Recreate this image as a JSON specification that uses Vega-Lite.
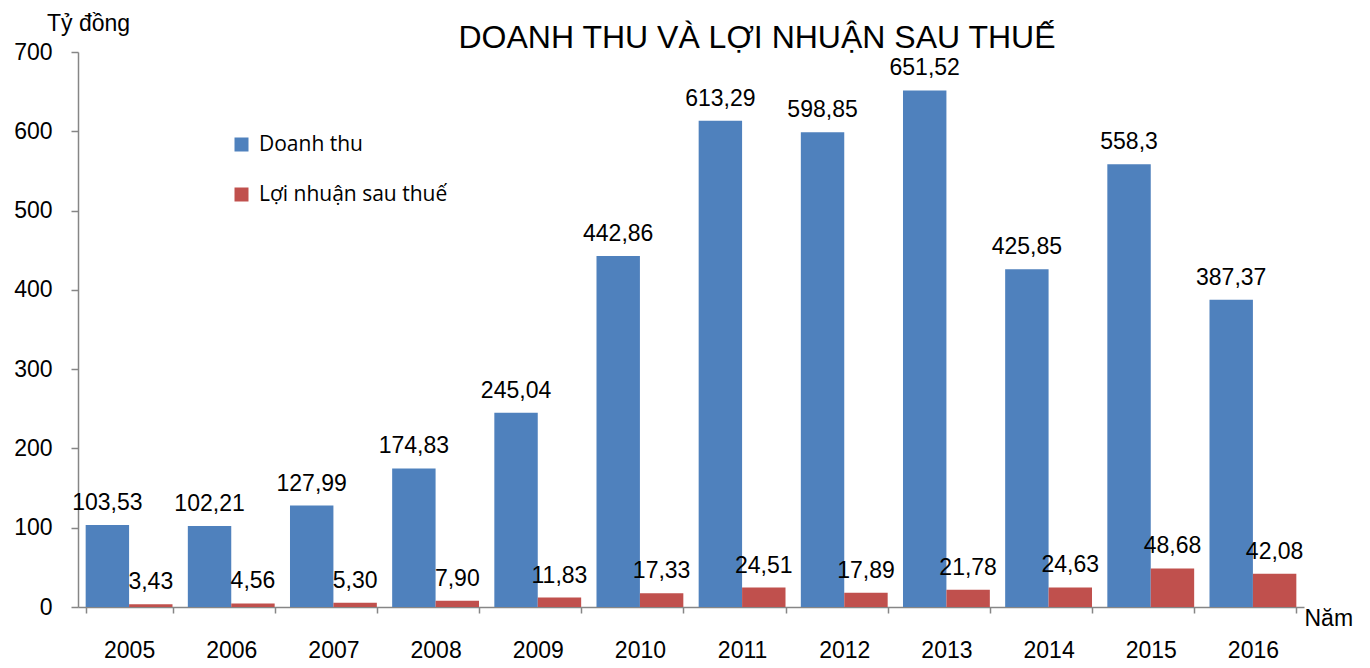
{
  "$schema": "https://vega.github.io/schema/vega-lite/v6.json",
  "width": 1226,
  "height": 555,
  "autosize": {"type": "none"},
  "padding": {"left": 78, "top": 52, "right": 66, "bottom": 61},
  "background": "white",
  "config": {"view": {"stroke": null}, "font": "Liberation Sans"},
  "title": {
    "text": "DOANH THU VÀ LỢI NHUẬN SAU THUẾ",
    "font": "Liberation Sans",
    "fontSize": 32,
    "fontWeight": "normal",
    "color": "black",
    "anchor": "middle",
    "frame": "group",
    "dx": 66,
    "dy": 72,
    "baseline": "alphabetic",
    "offset": 4
  },
  "data": {
    "values": [
      {"year": "2005", "series": "Doanh thu", "value": 103.53, "label": "103,53"},
      {"year": "2006", "series": "Doanh thu", "value": 102.21, "label": "102,21"},
      {"year": "2007", "series": "Doanh thu", "value": 127.99, "label": "127,99"},
      {"year": "2008", "series": "Doanh thu", "value": 174.83, "label": "174,83"},
      {"year": "2009", "series": "Doanh thu", "value": 245.04, "label": "245,04"},
      {"year": "2010", "series": "Doanh thu", "value": 442.86, "label": "442,86"},
      {"year": "2011", "series": "Doanh thu", "value": 613.29, "label": "613,29"},
      {"year": "2012", "series": "Doanh thu", "value": 598.85, "label": "598,85"},
      {"year": "2013", "series": "Doanh thu", "value": 651.52, "label": "651,52"},
      {"year": "2014", "series": "Doanh thu", "value": 425.85, "label": "425,85"},
      {"year": "2015", "series": "Doanh thu", "value": 558.3, "label": "558,3"},
      {"year": "2016", "series": "Doanh thu", "value": 387.37, "label": "387,37"},
      {"year": "2005", "series": "Lợi nhuận sau thuế", "value": 3.43, "label": "3,43"},
      {"year": "2006", "series": "Lợi nhuận sau thuế", "value": 4.56, "label": "4,56"},
      {"year": "2007", "series": "Lợi nhuận sau thuế", "value": 5.30, "label": "5,30"},
      {"year": "2008", "series": "Lợi nhuận sau thuế", "value": 7.90, "label": "7,90"},
      {"year": "2009", "series": "Lợi nhuận sau thuế", "value": 11.83, "label": "11,83"},
      {"year": "2010", "series": "Lợi nhuận sau thuế", "value": 17.33, "label": "17,33"},
      {"year": "2011", "series": "Lợi nhuận sau thuế", "value": 24.51, "label": "24,51"},
      {"year": "2012", "series": "Lợi nhuận sau thuế", "value": 17.89, "label": "17,89"},
      {"year": "2013", "series": "Lợi nhuận sau thuế", "value": 21.78, "label": "21,78"},
      {"year": "2014", "series": "Lợi nhuận sau thuế", "value": 24.63, "label": "24,63"},
      {"year": "2015", "series": "Lợi nhuận sau thuế", "value": 48.68, "label": "48,68"},
      {"year": "2016", "series": "Lợi nhuận sau thuế", "value": 42.08, "label": "42,08"}
    ]
  },
  "encoding": {
    "x": {
      "field": "year",
      "type": "nominal",
      "scale": {"paddingInner": 0.15, "paddingOuter": 0.075},
      "axis": {
        "title": "Năm",
        "titleFont": "Liberation Sans",
        "titleFontSize": 23,
        "titleFontWeight": "normal",
        "titleColor": "black",
        "titleAlign": "left",
        "titleBaseline": "alphabetic",
        "titleX": 1226,
        "titleY": 18,
        "labelAngle": 0,
        "labelFont": "Liberation Sans",
        "labelFontSize": 23,
        "labelColor": "black",
        "labelPadding": 26,
        "tickBand": "extent",
        "tickSize": 6,
        "tickColor": "#868686",
        "tickWidth": 1.5,
        "domainColor": "#868686",
        "domainWidth": 1.5,
        "grid": false
      }
    },
    "xOffset": {"field": "series", "type": "nominal", "sort": ["Doanh thu", "Lợi nhuận sau thuế"]},
    "y": {
      "field": "value",
      "type": "quantitative",
      "scale": {"domain": [0, 700], "nice": false},
      "axis": {
        "title": "Tỷ đồng",
        "titleFont": "Liberation Sans",
        "titleFontSize": 23,
        "titleFontWeight": "normal",
        "titleColor": "black",
        "titleAngle": 0,
        "titleAlign": "center",
        "titleBaseline": "alphabetic",
        "titleX": 10,
        "titleY": -22,
        "values": [0, 100, 200, 300, 400, 500, 600, 700],
        "labelFont": "Liberation Sans",
        "labelFontSize": 23,
        "labelColor": "black",
        "labelPadding": 19,
        "tickSize": 7,
        "tickColor": "#868686",
        "tickWidth": 1.5,
        "domainColor": "#868686",
        "domainWidth": 1.5,
        "grid": false
      }
    }
  },
  "layer": [
    {
      "mark": {"type": "bar"},
      "encoding": {
        "color": {
          "field": "series",
          "type": "nominal",
          "scale": {"domain": ["Doanh thu", "Lợi nhuận sau thuế"], "range": ["#4F81BD", "#C0504D"]},
          "legend": {
            "title": null,
            "orient": "none",
            "legendX": 153,
            "legendY": 82,
            "direction": "vertical",
            "symbolType": "square",
            "symbolSize": 196,
            "symbolStrokeWidth": 0,
            "labelFont": "Open Sans",
            "labelFontSize": 21,
            "labelColor": "black",
            "labelOffset": 7,
            "rowPadding": 28,
            "padding": 0,
            "labelLimit": 400
          }
        }
      }
    },
    {
      "mark": {"type": "text", "baseline": "alphabetic", "dy": -15, "font": "Liberation Sans", "fontSize": 23, "color": "black"},
      "encoding": {"text": {"field": "label"}}
    }
  ]
}
